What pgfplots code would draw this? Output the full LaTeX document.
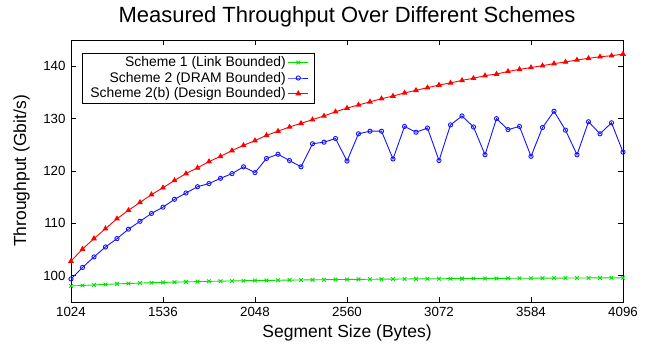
\documentclass[border=0pt]{standalone}
\usepackage{fontspec}
\setmainfont{Liberation Sans}
\usepackage{pgfplots}
\usepackage{pgfplotstable}
\pgfplotsset{compat=1.18}
\definecolor{cgreen}{RGB}{0,225,0}
\definecolor{cblue}{RGB}{20,20,255}
\definecolor{cred}{RGB}{255,0,0}
\pgfplotstableread{
x g b r
1024 98.05 99.4 102.8
1088 98.16 101.6 105.1
1152 98.26 103.6 107.1
1216 98.36 105.5 109.0
1280 98.46 107.1 110.9
1344 98.53 108.9 112.5
1408 98.61 110.4 114.0
1472 98.68 111.9 115.5
1536 98.74 113.1 116.8
1600 98.79 114.6 118.2
1664 98.84 115.8 119.5
1728 98.89 117.0 120.6
1792 98.94 117.6 121.8
1856 98.98 118.6 122.8
1920 99.02 119.5 123.9
1984 99.06 120.8 124.9
2048 99.09 119.7 125.8
2112 99.12 122.4 126.8
2176 99.15 123.2 127.6
2240 99.18 122.0 128.4
2304 99.20 120.8 129.1
2368 99.23 125.2 129.8
2432 99.25 125.5 130.5
2496 99.28 126.2 131.3
2560 99.30 121.9 132.0
2624 99.32 127.1 132.6
2688 99.34 127.6 133.2
2752 99.36 127.6 133.8
2816 99.37 122.3 134.3
2880 99.39 128.5 134.9
2944 99.41 127.4 135.4
3008 99.42 128.2 135.9
3072 99.44 122.0 136.4
3136 99.45 128.8 136.8
3200 99.46 130.5 137.3
3264 99.48 128.4 137.7
3328 99.49 123.1 138.2
3392 99.50 130.0 138.5
3456 99.52 127.9 139.0
3520 99.53 128.5 139.4
3584 99.54 122.8 139.75
3648 99.55 128.3 140.1
3712 99.56 131.4 140.5
3776 99.57 127.8 140.8
3840 99.58 123.1 141.2
3904 99.59 129.4 141.5
3968 99.60 127.1 141.8
4032 99.61 129.2 142.0
4096 99.62 123.6 142.3
}\datatable
\begin{document}
\begin{tikzpicture}
\begin{axis}[
  name=ax,
  scale only axis,
  width=552pt, height=262pt,
  xmin=1024, xmax=4096, ymin=95, ymax=145,
  xtick={1024,1536,2048,2560,3072,3584,4096},
  ytick={100,110,120,130,140},
  tick align=inside,
  tick pos=both,
  major tick length=5pt,
  axis line style={line width=0.8pt},
  every tick/.style={black, line width=0.6pt},
  /pgf/number format/assume math mode=true,
  /pgf/number format/1000 sep={},
  tick label style={font=\fontsize{13.3}{15}\selectfont},
  x tick label style={yshift=-2pt},
  y tick label style={xshift=-2pt},
  title={Measured Throughput Over Different Schemes},
  title style={font=\fontsize{22}{26}\selectfont, at={(axis description cs:0.5,1)}, anchor=center, yshift=17pt},
  xlabel={Segment Size (Bytes)},
  xlabel style={font=\fontsize{17.5}{21}\selectfont, at={(axis description cs:0.5,0)}, anchor=center, yshift=-31pt},
  ylabel={Throughput (Gbit/s)},
  ylabel style={font=\fontsize{17.5}{21}\selectfont, at={(axis description cs:-0.0893,0.5)}, anchor=center},
  legend plot pos=right,
  legend cell align=right,
  legend style={at={(0.02,0.951)}, anchor=north west, draw=black, line width=0.6pt,
    font=\fontsize{13.9}{15}\selectfont, inner xsep=6pt, inner ysep=1.5pt, row sep=0pt},
  legend image code/.code={\draw[mark repeat=2,mark phase=2] plot coordinates {(-3pt,0pt) (7pt,0pt) (17pt,0pt)};},
]
\addplot[cgreen, line width=0.9pt, mark=x, mark size=2.6pt, mark options={solid}] table[x=x,y=g] {\datatable};
\addlegendentry{Scheme 1 (Link Bounded)\hspace{11pt}}
\addplot[cblue, line width=0.9pt, mark=o, mark size=2.1pt, mark options={solid}] table[x=x,y=b] {\datatable};
\addlegendentry{Scheme 2 (DRAM Bounded)\hspace{11pt}}
\addplot[cred, line width=0.9pt, mark=triangle*, mark size=2.5pt, mark options={solid}] table[x=x,y=r] {\datatable};
\addlegendentry{Scheme 2(b) (Design Bounded)\hspace{11pt}}
\end{axis}
\pgfresetboundingbox
\path[use as bounding box] (ax.south west) ++(-71pt,-45pt) rectangle ++(652pt,347pt);
\end{tikzpicture}
\end{document}
